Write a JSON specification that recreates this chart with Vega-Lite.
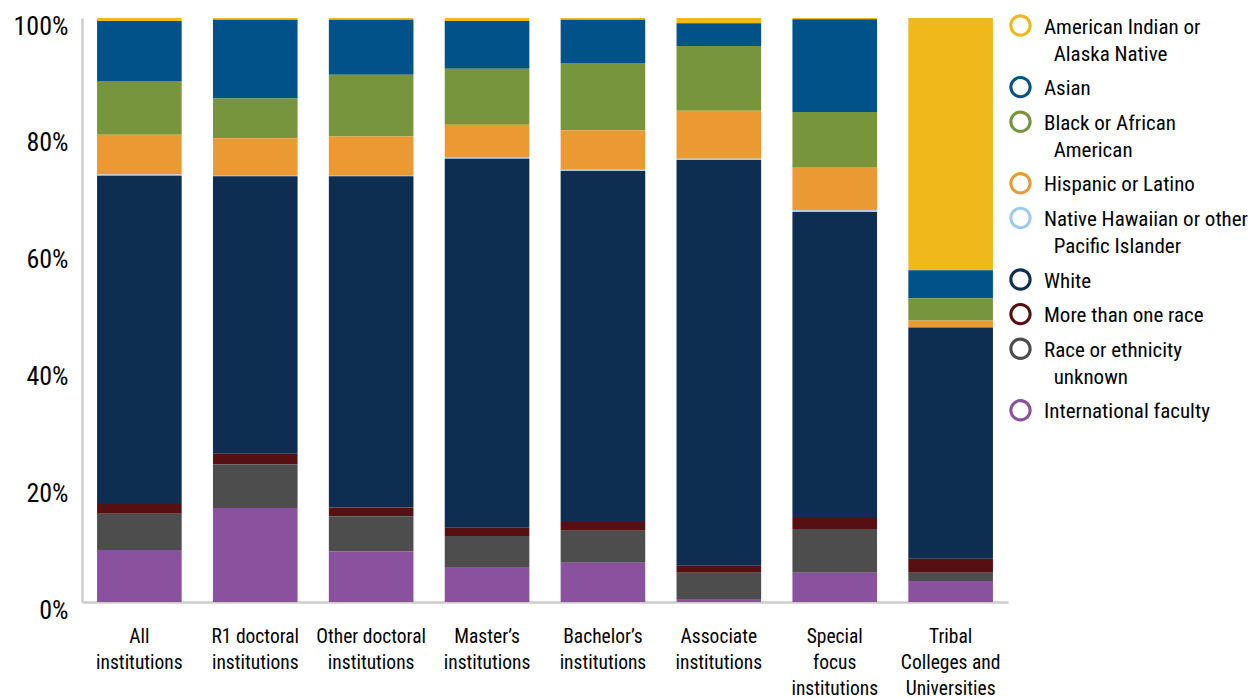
{
  "$schema": "https://vega.github.io/schema/vega-lite/v6.json",
  "autosize": "none",
  "width": 926,
  "height": 584,
  "padding": {"left": 82, "top": 18, "right": 248, "bottom": 96},
  "background": "white",
  "config": {
    "view": {"stroke": null},
    "font": "Liberation Sans Narrow, Roboto Condensed, DejaVu Sans Condensed, sans-serif"
  },
  "datasets": {
    "races": [
      {"race": "International faculty", "rank": 1},
      {"race": "Race or ethnicity unknown", "rank": 2},
      {"race": "More than one race", "rank": 3},
      {"race": "White", "rank": 4},
      {"race": "Native Hawaiian or other Pacific Islander", "rank": 5},
      {"race": "Hispanic or Latino", "rank": 6},
      {"race": "Black or African American", "rank": 7},
      {"race": "Asian", "rank": 8},
      {"race": "American Indian or Alaska Native", "rank": 9}
    ],
    "faculty": [
      {"inst": "All institutions", "race": "American Indian or Alaska Native", "pct": 0.5},
      {"inst": "All institutions", "race": "Asian", "pct": 10.3},
      {"inst": "All institutions", "race": "Black or African American", "pct": 9.2},
      {"inst": "All institutions", "race": "Hispanic or Latino", "pct": 6.8},
      {"inst": "All institutions", "race": "Native Hawaiian or other Pacific Islander", "pct": 0.2},
      {"inst": "All institutions", "race": "White", "pct": 56.2},
      {"inst": "All institutions", "race": "More than one race", "pct": 1.7},
      {"inst": "All institutions", "race": "Race or ethnicity unknown", "pct": 6.2},
      {"inst": "All institutions", "race": "International faculty", "pct": 8.9},

      {"inst": "R1 doctoral institutions", "race": "American Indian or Alaska Native", "pct": 0.3},
      {"inst": "R1 doctoral institutions", "race": "Asian", "pct": 13.5},
      {"inst": "R1 doctoral institutions", "race": "Black or African American", "pct": 6.8},
      {"inst": "R1 doctoral institutions", "race": "Hispanic or Latino", "pct": 6.4},
      {"inst": "R1 doctoral institutions", "race": "Native Hawaiian or other Pacific Islander", "pct": 0.1},
      {"inst": "R1 doctoral institutions", "race": "White", "pct": 47.5},
      {"inst": "R1 doctoral institutions", "race": "More than one race", "pct": 1.8},
      {"inst": "R1 doctoral institutions", "race": "Race or ethnicity unknown", "pct": 7.5},
      {"inst": "R1 doctoral institutions", "race": "International faculty", "pct": 16.1},

      {"inst": "Other doctoral institutions", "race": "American Indian or Alaska Native", "pct": 0.3},
      {"inst": "Other doctoral institutions", "race": "Asian", "pct": 9.4},
      {"inst": "Other doctoral institutions", "race": "Black or African American", "pct": 10.6},
      {"inst": "Other doctoral institutions", "race": "Hispanic or Latino", "pct": 6.7},
      {"inst": "Other doctoral institutions", "race": "Native Hawaiian or other Pacific Islander", "pct": 0.1},
      {"inst": "Other doctoral institutions", "race": "White", "pct": 56.7},
      {"inst": "Other doctoral institutions", "race": "More than one race", "pct": 1.5},
      {"inst": "Other doctoral institutions", "race": "Race or ethnicity unknown", "pct": 6.0},
      {"inst": "Other doctoral institutions", "race": "International faculty", "pct": 8.7},

      {"inst": "Master’s institutions", "race": "American Indian or Alaska Native", "pct": 0.5},
      {"inst": "Master’s institutions", "race": "Asian", "pct": 8.2},
      {"inst": "Master’s institutions", "race": "Black or African American", "pct": 9.6},
      {"inst": "Master’s institutions", "race": "Hispanic or Latino", "pct": 5.5},
      {"inst": "Master’s institutions", "race": "Native Hawaiian or other Pacific Islander", "pct": 0.3},
      {"inst": "Master’s institutions", "race": "White", "pct": 63.1},
      {"inst": "Master’s institutions", "race": "More than one race", "pct": 1.5},
      {"inst": "Master’s institutions", "race": "Race or ethnicity unknown", "pct": 5.3},
      {"inst": "Master’s institutions", "race": "International faculty", "pct": 6.0},

      {"inst": "Bachelor’s institutions", "race": "American Indian or Alaska Native", "pct": 0.3},
      {"inst": "Bachelor’s institutions", "race": "Asian", "pct": 7.4},
      {"inst": "Bachelor’s institutions", "race": "Black or African American", "pct": 11.5},
      {"inst": "Bachelor’s institutions", "race": "Hispanic or Latino", "pct": 6.8},
      {"inst": "Bachelor’s institutions", "race": "Native Hawaiian or other Pacific Islander", "pct": 0.2},
      {"inst": "Bachelor’s institutions", "race": "White", "pct": 60.1},
      {"inst": "Bachelor’s institutions", "race": "More than one race", "pct": 1.5},
      {"inst": "Bachelor’s institutions", "race": "Race or ethnicity unknown", "pct": 5.5},
      {"inst": "Bachelor’s institutions", "race": "International faculty", "pct": 6.7},

      {"inst": "Associate institutions", "race": "American Indian or Alaska Native", "pct": 0.9},
      {"inst": "Associate institutions", "race": "Asian", "pct": 3.9},
      {"inst": "Associate institutions", "race": "Black or African American", "pct": 11.1},
      {"inst": "Associate institutions", "race": "Hispanic or Latino", "pct": 8.2},
      {"inst": "Associate institutions", "race": "Native Hawaiian or other Pacific Islander", "pct": 0.2},
      {"inst": "Associate institutions", "race": "White", "pct": 69.5},
      {"inst": "Associate institutions", "race": "More than one race", "pct": 1.2},
      {"inst": "Associate institutions", "race": "Race or ethnicity unknown", "pct": 4.5},
      {"inst": "Associate institutions", "race": "International faculty", "pct": 0.5},

      {"inst": "Special focus institutions", "race": "American Indian or Alaska Native", "pct": 0.2},
      {"inst": "Special focus institutions", "race": "Asian", "pct": 15.9},
      {"inst": "Special focus institutions", "race": "Black or African American", "pct": 9.4},
      {"inst": "Special focus institutions", "race": "Hispanic or Latino", "pct": 7.4},
      {"inst": "Special focus institutions", "race": "Native Hawaiian or other Pacific Islander", "pct": 0.3},
      {"inst": "Special focus institutions", "race": "White", "pct": 52.4},
      {"inst": "Special focus institutions", "race": "More than one race", "pct": 1.9},
      {"inst": "Special focus institutions", "race": "Race or ethnicity unknown", "pct": 7.5},
      {"inst": "Special focus institutions", "race": "International faculty", "pct": 5.0},

      {"inst": "Tribal Colleges and Universities", "race": "American Indian or Alaska Native", "pct": 43.2},
      {"inst": "Tribal Colleges and Universities", "race": "Asian", "pct": 4.8},
      {"inst": "Tribal Colleges and Universities", "race": "Black or African American", "pct": 3.8},
      {"inst": "Tribal Colleges and Universities", "race": "Hispanic or Latino", "pct": 1.2},
      {"inst": "Tribal Colleges and Universities", "race": "Native Hawaiian or other Pacific Islander", "pct": 0.0},
      {"inst": "Tribal Colleges and Universities", "race": "White", "pct": 39.6},
      {"inst": "Tribal Colleges and Universities", "race": "More than one race", "pct": 2.4},
      {"inst": "Tribal Colleges and Universities", "race": "Race or ethnicity unknown", "pct": 1.4},
      {"inst": "Tribal Colleges and Universities", "race": "International faculty", "pct": 3.6}
    ]
  },
  "data": {"name": "faculty"},
  "transform": [
    {"lookup": "race", "from": {"data": {"name": "races"}, "key": "race", "fields": ["rank"]}}
  ],
  "mark": {"type": "bar"},
  "encoding": {
    "x": {
      "field": "inst",
      "type": "nominal",
      "sort": null,
      "scale": {"paddingInner": 0.27, "paddingOuter": 0.13},
      "axis": {
        "title": null,
        "domainColor": "#cccccc",
        "domainWidth": 2.5,
        "ticks": false,
        "labelAngle": 0,
        "labelFontSize": 19.5,
        "labelColor": "#000000",
        "labelBaseline": "top",
        "labelPadding": 25,
        "labelLineHeight": 26,
        "labelLimit": 0,
        "labelExpr": "datum.label == 'All institutions' ? ['All', 'institutions'] : datum.label == 'R1 doctoral institutions' ? ['R1 doctoral', 'institutions'] : datum.label == 'Other doctoral institutions' ? ['Other doctoral', 'institutions'] : datum.label == 'Master’s institutions' ? ['Master’s', 'institutions'] : datum.label == 'Bachelor’s institutions' ? ['Bachelor’s', 'institutions'] : datum.label == 'Associate institutions' ? ['Associate', 'institutions'] : datum.label == 'Special focus institutions' ? ['Special', 'focus', 'institutions'] : ['Tribal', 'Colleges and', 'Universities']"
      }
    },
    "y": {
      "field": "pct",
      "type": "quantitative",
      "stack": "normalize",
      "axis": {
        "title": null,
        "format": ".0%",
        "values": [0, 0.2, 0.4, 0.6, 0.8, 1],
        "grid": false,
        "ticks": false,
        "domainColor": "#cccccc",
        "domainWidth": 2.5,
        "labelFontSize": 26,
        "labelColor": "#000000",
        "labelPadding": 14,
        "labelOffset": 8
      }
    },
    "order": {"field": "rank", "type": "quantitative", "sort": "ascending"},
    "color": {
      "field": "race",
      "type": "nominal",
      "scale": {
        "domain": ["American Indian or Alaska Native", "Asian", "Black or African American", "Hispanic or Latino", "Native Hawaiian or other Pacific Islander", "White", "More than one race", "Race or ethnicity unknown", "International faculty"],
        "range": ["#F0B91B", "#005288", "#77953C", "#EA9933", "#9DCBEA", "#0D2E50", "#561011", "#4D4D4D", "#8A519E"]
      },
      "legend": {
        "title": null,
        "orient": "none",
        "legendX": 927,
        "legendY": -4,
        "padding": 0,
        "symbolType": "M1,0A1,1,0,1,1,-1,0A1,1,0,1,1,1,0ZM0.72,0A0.72,0.72,0,1,0,-0.72,0A0.72,0.72,0,1,0,0.72,0Z",
        "symbolSize": 500,
        "symbolStrokeWidth": 0,
        "labelFontSize": 21,
        "labelColor": "#000000",
        "labelLimit": 0,
        "labelOffset": 12,
        "labelBaseline": "top",
        "rowPadding": 10.6,
        "labelExpr": "datum.label == 'American Indian or Alaska Native' ? ['American Indian or', '\u200b\u00a0\u00a0Alaska Native'] : datum.label == 'Black or African American' ? ['Black or African', '\u200b\u00a0\u00a0American'] : datum.label == 'Native Hawaiian or other Pacific Islander' ? ['Native Hawaiian or other', '\u200b\u00a0\u00a0Pacific Islander'] : datum.label == 'Race or ethnicity unknown' ? ['Race or ethnicity', '\u200b\u00a0\u00a0unknown'] : datum.label",
        "encode": {
          "labels": {"update": {"dy": {"value": -9}, "lineHeight": {"value": 27}}}
        }
      }
    }
  }
}
